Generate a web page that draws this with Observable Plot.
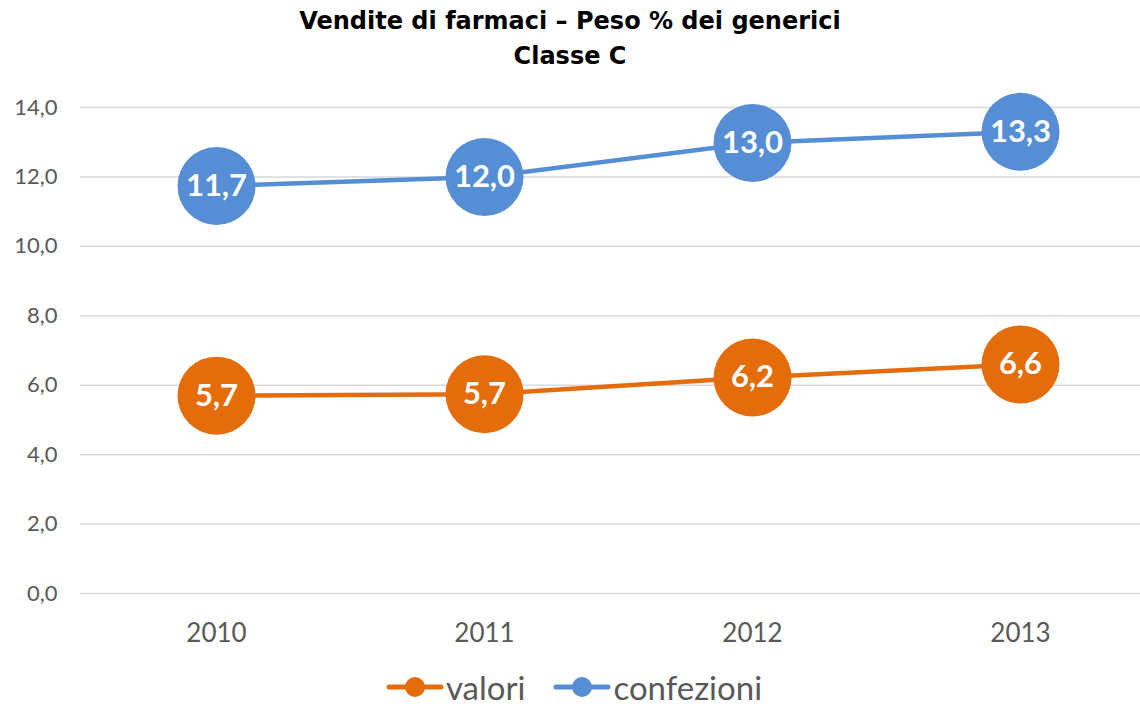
<!DOCTYPE html>
<html><head><meta charset="utf-8">
<script src="https://cdn.jsdelivr.net/npm/d3@7"></script>
<script src="https://cdn.jsdelivr.net/npm/@observablehq/plot@0.6"></script>
<style>
body{margin:0;background:#fff;font-family:Lato,"DejaVu Sans",sans-serif;}
#title{height:75px;text-align:center;font-weight:bold;font-size:24px;line-height:35px;padding-top:4px;box-sizing:border-box;color:#000;font-family:"DejaVu Sans",sans-serif;}
#legend{height:43px;display:flex;justify-content:center;align-items:center;gap:28px;font-size:33px;color:#595959;padding-left:8px;box-sizing:border-box;}
#legend span{display:flex;align-items:center;gap:2px;}
</style></head><body>
<div id="title">Vendite di farmaci – Peso % dei generici<br>Classe C</div>
<div id="chart"></div>
<div id="legend"></div>
<script>
const years = ["2010","2011","2012","2013"];
const valori = [5.7, 5.74, 6.22, 6.6];
const confezioni = [11.74, 12.0, 12.98, 13.3];
const seriesNames = ["valori","confezioni"];
const seriesColors = ["#E46C0A","#558ED5"];
const yTicks = [0,2,4,6,8,10,12,14];

const fmt = v => v.toFixed(1).replace(".", ",");
const data = [];
years.forEach((y,i)=>{
  data.push({year:y, value:valori[i], series:"valori"});
  data.push({year:y, value:confezioni[i], series:"confezioni"});
});

const plot = Plot.plot({
  width:1140, height:590,
  marginLeft:80, marginRight:0, marginTop:32, marginBottom:72,
  style:{fontFamily:"Lato, 'DejaVu Sans', sans-serif", background:"#fff"},
  x:{type:"point", domain:years, range:[215,1020], padding:0, label:null},
  y:{domain:[0,14], label:null},
  color:{domain:seriesNames, range:seriesColors},
  marks:[
    Plot.ruleY(yTicks, {stroke:"#D9D9D9", strokeWidth:1.5}),
    Plot.axisY({ticks:yTicks, tickSize:0, tickPadding:23, tickFormat:fmt, fontSize:22, fill:"#595959", label:null}),
    Plot.axisX({tickSize:0, tickPadding:30, fontSize:26, fill:"#595959", label:null}),
    Plot.line(data, {x:"year", y:"value", z:"series", stroke:"series", strokeWidth:4.5}),
    Plot.dot(data, {x:"year", y:"value", fill:"series", r:39, stroke:"none"}),
    Plot.text(data, {x:"year", y:"value", text:d=>fmt(d.value), fill:"#fff", fontSize:31, fontWeight:"bold"})
  ]
});
document.getElementById("chart").appendChild(plot);

const leg = document.getElementById("legend");
seriesNames.forEach((n,i)=>{
  const s = document.createElement("span");
  s.innerHTML = `<svg width="58" height="24"><line x1="3" y1="12" x2="55" y2="12" stroke="${seriesColors[i]}" stroke-width="5" stroke-linecap="round"/><circle cx="29" cy="12" r="10" fill="${seriesColors[i]}"/></svg>${n}`;
  leg.appendChild(s);
});
</script>
</body></html>
